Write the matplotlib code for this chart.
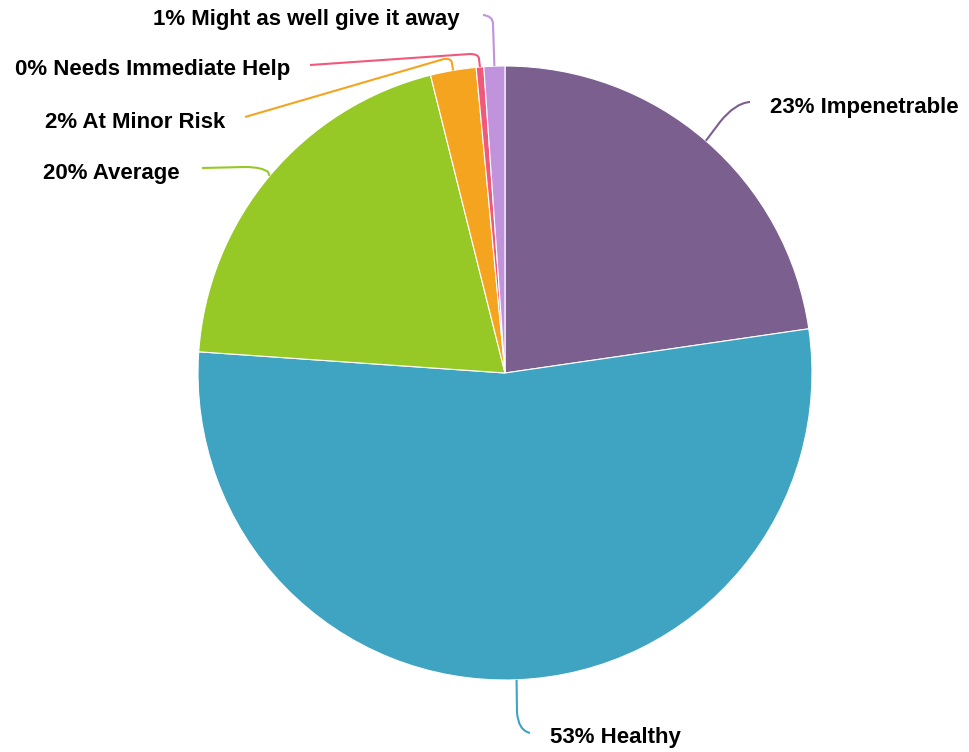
import numpy as np
import matplotlib.pyplot as plt
from matplotlib.path import Path
from matplotlib.patches import PathPatch

# slice data (clockwise from 12 o'clock)
labels = ["Impenetrable", "Healthy", "Average", "At Minor Risk",
          "Needs Immediate Help", "Might as well give it away"]
shares = [22.7, 53.4, 20.0, 2.4, 0.4, 1.1]
pct_text = ["23%", "53%", "20%", "2%", "0%", "1%"]
colors = ["#7b5f8f", "#3fa3c2", "#97c926", "#f5a41f", "#f0597c", "#c093dc"]

W, H = 969, 752
fig = plt.figure(figsize=(W / 100, H / 100), dpi=100)
ax = fig.add_axes([0, 0, 1, 1])

cx, cy, r = 505, H - 373, 307
wedges, _ = ax.pie(shares, colors=colors, startangle=90, counterclock=False,
                   center=(cx, cy), radius=r, frame=True,
                   wedgeprops=dict(edgecolor="white", linewidth=0.8))
ax.set_xlim(0, W)
ax.set_ylim(0, H)
ax.set_aspect("equal")
ax.axis("off")

# leader layout in pixel coords (top-left origin):
# (pre-corner point, corner, post-corner point, end, text pos, ha)
layout = [
    ((720, 122), (735, 103), (750, 102), (750, 102), (770, 107), "left"),
    ((517, 712), (518, 730), (530, 733), (530, 733), (550, 738), "left"),
    ((268, 172), (262, 167), (245, 167), (202, 168), (180, 173), "right"),
    ((452, 64), (452, 58), (444, 59), (245, 117), (225, 122), "right"),
    ((479, 59), (479, 54), (470, 54), (310, 65), (290, 70), "right"),
    ((493, 24), (493, 16), (483, 15), (483, 15), (460, 19), "right"),
]

def flip(p):
    return (p[0], H - p[1])

for w, col, lay, lab, pt in zip(wedges, colors, layout, labels, pct_text):
    pre, corner, post, end, tpos, ha = lay
    mid = np.deg2rad((w.theta1 + w.theta2) / 2)
    sx, sy = cx + r * np.cos(mid), cy + r * np.sin(mid)
    verts = [(sx, sy), flip(pre), flip(corner), flip(post), flip(end)]
    codes = [Path.MOVETO, Path.LINETO, Path.CURVE3, Path.CURVE3, Path.LINETO]
    ax.add_patch(PathPatch(Path(verts, codes), facecolor="none",
                           edgecolor=col, linewidth=1.5))
    ax.text(tpos[0], H - tpos[1], f"{pt} {lab}", ha=ha, va="center",
            fontsize=16, fontweight="bold", family="Liberation Sans", color="black")

fig.savefig("out.png", dpi=100)
